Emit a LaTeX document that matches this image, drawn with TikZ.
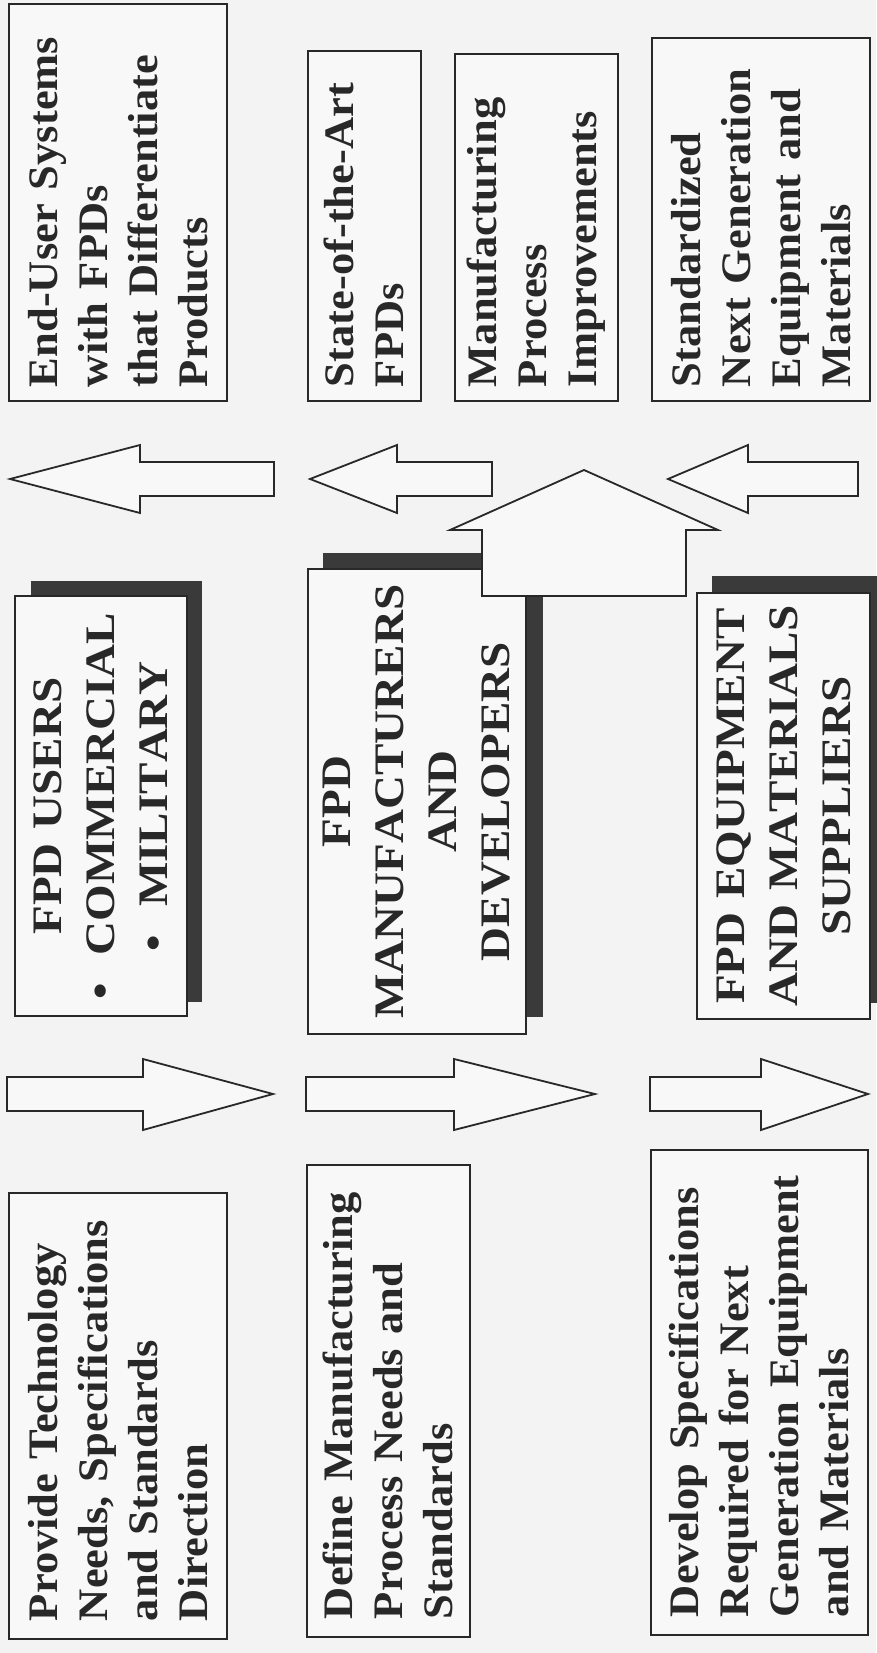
\documentclass[tikz,border=0pt]{standalone}
\usepackage{fontspec}
\setmainfont{Liberation Serif}[FakeStretch=1.06]
\newfontfamily\capsfont{Liberation Serif}[FakeStretch=1.12, Kerning=Off]

\definecolor{paper}{RGB}{243,243,243}
\definecolor{boxfill}{RGB}{248,248,248}
\definecolor{ink}{RGB}{40,40,40}
\definecolor{shadowgray}{RGB}{58,58,58}

\tikzset{
  card/.style={draw=ink, line width=1.8pt, fill=boxfill, rotate=90,
    anchor=north west, text=ink, inner ysep=4pt},
  outbox/.style n args={3}{card, align=left, inner xsep=14pt,
    minimum width=#1pt, minimum height=#2pt, text width=#3pt,
    font=\fontsize{42}{50}\selectfont\bfseries},
  inbox/.style n args={3}{outbox={#1}{#2}{#3}, inner xsep=18pt},
  actorbox/.style n args={3}{card, align=center, inner xsep=3pt,
    minimum width=#1pt, minimum height=#2pt, text width=#3pt,
    font=\capsfont\fontsize{42}{53}\selectfont\bfseries},
  blockarrow/.style={draw=ink, line width=1.8pt, fill=boxfill, line join=miter}
}

\begin{document}
\begin{tikzpicture}[x=1pt, y=-1pt]
  \fill[paper] (0,0) rectangle (876,1653);
  \useasboundingbox (0,0) rectangle (876,1653);

  % shadows of the actor boxes
  \fill[shadowgray] (31,581) rectangle (202,1002);
  \fill[shadowgray] (323,553) rectangle (543,1017);
  \fill[shadowgray] (712,576) rectangle (892,1003);

  % results (top)
  \node[outbox={397}{218}{369}] (enduser) at (8,402)
    {End-User Systems\\with FPDs\\that Differentiate\\Products};
  \node[outbox={350}{113}{322}] (stateart) at (307,402)
    {State-of-the-Art\\FPDs};
  \node[outbox={347}{163}{319}] (procimp) at (454,402)
    {Manufacturing\\Process\\Improvements};
  \node[outbox={363}{218}{335}] (nextgen) at (651,402)
    {Standardized\\Next Generation\\Equipment and\\Materials};

  % actors (middle)
  \node[actorbox={420}{172}{414}] (users) at (14,1017)
    {FPD USERS\\\textbullet\hspace{28pt}COMMERCIAL\\\textbullet\hspace{28pt}MILITARY};
  \node[actorbox={465}{218}{459}] (makers) at (307,1035)
    {FPD\\MANUFACTURERS\\AND\hspace*{50pt}\\DEVELOPERS};
  \node[actorbox={426}{173}{420}] (suppliers) at (696,1020)
    {FPD EQUIPMENT\\AND MATERIALS\\SUPPLIERS};

  % needs (bottom)
  \node[inbox={446}{218}{410}] (needs) at (8,1640)
    {Provide Technology\\Needs, Specifications\\and Standards\\Direction};
  \node[inbox={472}{163}{436}] (procneeds) at (306,1638)
    {Define Manufacturing\\Process Needs and\\Standards};
  \node[inbox={485}{217}{449}] (specs) at (650,1636)
    {Develop Specifications\\Required for Next\\Generation Equipment\\and Materials};

  % arrows into the actors
  \foreach \s/\b/\t in {7/143/273, 306/454/595, 650/761/868}
    \draw[blockarrow] (\s,1077) -- (\b,1077) -- (\b,1059) -- (\t,1094)
      -- (\b,1130) -- (\b,1111) -- (\s,1111) -- cycle;

  % arrows out to the results
  \foreach \t/\b/\e in {10/140/274, 310/397/492, 668/748/858}
    \draw[blockarrow] (\e,462) -- (\b,462) -- (\b,445) -- (\t,479)
      -- (\b,513) -- (\b,496) -- (\e,496) -- cycle;

  % big arrow over the manufacturers box
  \draw[blockarrow] (482,596) -- (482,530) -- (450,530) -- (584,470)
    -- (718,530) -- (686,530) -- (686,596) -- cycle;
\end{tikzpicture}
\end{document}
